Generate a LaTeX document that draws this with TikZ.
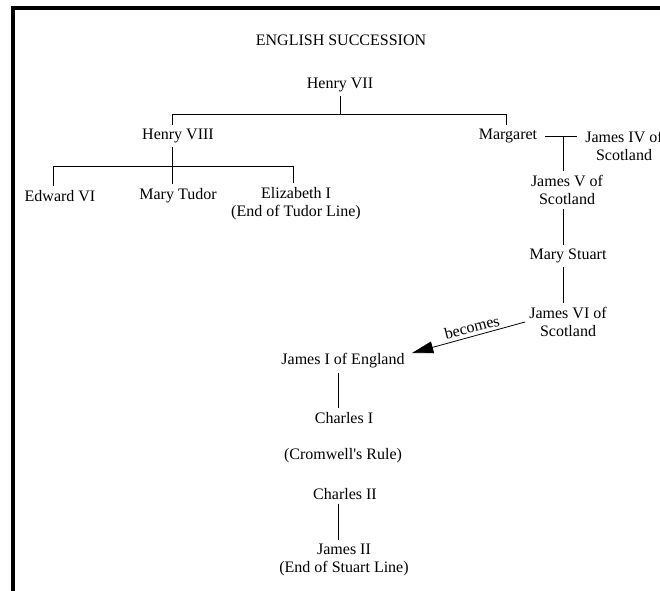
\documentclass[tikz,border=0pt]{standalone}
\usepackage{fontspec}
\setmainfont{Liberation Serif}
\usetikzlibrary{arrows.meta}
\begin{document}
\begin{tikzpicture}[x=0.75pt,y=-0.75pt,
  lbl/.style={font=\fontsize{12}{13.5}\selectfont, align=center, inner sep=3pt},
  conn/.style={line width=0.6pt},
  frame/.style={line width=3pt}]
\useasboundingbox (0,0) rectangle (660,590);
\draw[frame] (13,600) -- (13,8) -- (670,8);

\node[lbl] (title) at (341,40) {ENGLISH SUCCESSION};
\node[lbl] (h7) at (340,85) {Henry VII};
\node[lbl] (h8) at (178,136) {Henry VIII};
\node[lbl] (mg) at (508,136) {Margaret};
\node[lbl] (j4) at (624,146) {James IV of\\Scotland};
\node[lbl] (ed) at (60,196) {Edward VI};
\node[lbl] (mt) at (178,196) {Mary Tudor};
\node[lbl] (el) at (296,204) {Elizabeth I\\(End of Tudor Line)};
\node[lbl] (j5) at (567,190) {James V of\\Scotland};
\node[lbl] (ms) at (568,256) {Mary Stuart};
\node[lbl] (j6) at (568,322) {James VI of\\Scotland};
\node[lbl] (j1) at (343,361) {James I of England};
\node[lbl] (c1) at (344,418) {Charles I};
\node[lbl] (cw) at (343,456) {(Cromwell\textquotesingle s Rule)};
\node[lbl] (c2) at (345,494) {Charles II};
\node[lbl] (j2) at (344,560) {James II\\(End of Stuart Line)};

\coordinate (tl) at (172,114);
\coordinate (tr) at (506,114);
\draw[conn] (h7) -- (h7 |- tl);
\draw[conn] (h8.north -| tl) -- (tl) -- (tr) -- (mg.north -| tr);

\coordinate (cl) at (53,166);
\coordinate (cr) at (293,166);
\draw[conn] (h8.south -| tl) -- (tl |- mt.north);
\draw[conn] (ed.north -| cl) -- (cl) -- (cr) -- (el.north -| cr);

\coordinate (mj) at (563,136);
\draw[conn, shorten <=3pt, shorten >=3pt] (mg.east) -- (mg.east -| j4.west);
\draw[conn] (mj) -- (mj |- j5.north);
\draw[conn] (j5.south -| mj) -- (mj |- ms.north);
\draw[conn] (ms.south -| mj) -- (mj |- j6.north);

\coordinate (tip) at (412,353);
\draw[conn, -{Triangle[length=16pt,width=9pt]}] (j6.west) -- (tip);
\node[lbl, rotate=14] (bc) at (472,327) {becomes};

\coordinate (jx) at (338,0);
\draw[conn] (j1.south -| jx) -- (jx |- c1.north);
\draw[conn] (c2.south -| jx) -- (jx |- j2.north);
\end{tikzpicture}
\end{document}
